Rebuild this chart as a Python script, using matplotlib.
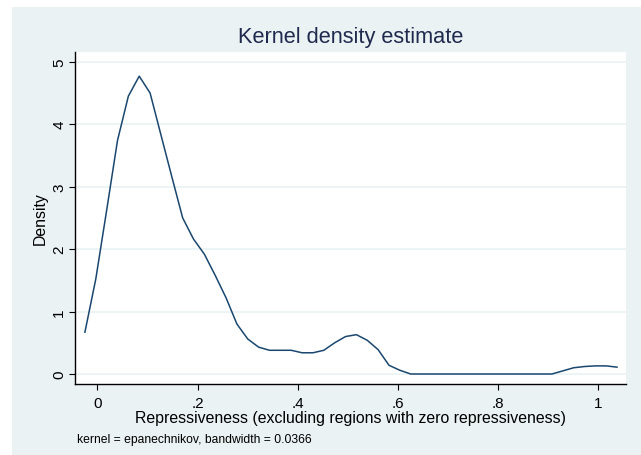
import matplotlib
matplotlib.use('Agg')
from matplotlib import pyplot as plt
from matplotlib.patches import Rectangle

plt.rcParams['font.family'] = ['Liberation Sans', 'DejaVu Sans']

# kernel density estimate (50 evaluation points)
repressiveness = [
    -0.0250, -0.0033, 0.0184, 0.0401, 0.0618, 0.0835, 0.1052, 0.1269, 0.1486, 0.1703,
    0.1920, 0.2136, 0.2353, 0.2570, 0.2787, 0.3004, 0.3221, 0.3438, 0.3655, 0.3872,
    0.4089, 0.4306, 0.4523, 0.4740, 0.4957, 0.5174, 0.5391, 0.5608, 0.5825, 0.6042,
    0.6259, 0.6476, 0.6693, 0.6910, 0.7127, 0.7344, 0.7561, 0.7778, 0.7995, 0.8212,
    0.8429, 0.8646, 0.8863, 0.9080, 0.9297, 0.9514, 0.9731, 0.9948, 1.0165, 1.0380,
]
density = [
    0.67, 1.52, 2.62, 3.74, 4.45, 4.77, 4.50, 3.83, 3.16, 2.50,
    2.16, 1.92, 1.58, 1.22, 0.80, 0.56, 0.43, 0.38, 0.38, 0.38,
    0.34, 0.34, 0.38, 0.50, 0.60, 0.63, 0.54, 0.39, 0.14, 0.06,
    0.00, 0.00, 0.00, 0.00, 0.00, 0.00, 0.00, 0.00, 0.00, 0.00,
    0.00, 0.00, 0.00, 0.00, 0.05, 0.10, 0.12, 0.13, 0.13, 0.11,
]
x_ticks = [0, 0.2, 0.4, 0.6, 0.8, 1.0]
x_tick_labels = ['0', '.2', '.4', '.6', '.8', '1']
y_ticks = [0, 1, 2, 3, 4, 5]

stata_bg = '#eaf2f3'
stata_navy = '#1a476f'
title_color = '#1f2a4e'

fig = plt.figure(figsize=(6.41, 4.56), dpi=100, facecolor='white')
fig.patches.append(Rectangle((12 / 641, 0), 1, 448 / 456, transform=fig.transFigure,
                             facecolor=stata_bg, edgecolor='none', zorder=-1))

ax = fig.add_axes([75 / 641, 71 / 456, 551 / 641, 332 / 456])
ax.set_facecolor('white')

ax.plot(repressiveness, density, color=stata_navy, linewidth=1.1, zorder=3)

ax.set_xlim(-0.0448, 1.056)
ax.set_ylim(-0.16, 5.157)

ax.set_xticks(x_ticks)
ax.set_xticklabels(x_tick_labels)
ax.set_yticks(y_ticks)
ax.set_yticklabels([str(v) for v in y_ticks], rotation=90, va='center')

ax.tick_params(axis='both', direction='out', length=4.3, width=0.8, labelsize=11, colors='black')
ax.tick_params(axis='x', pad=4.5)
ax.tick_params(axis='y', pad=2)

ax.grid(axis='y', color=stata_bg, linewidth=1.2, zorder=0)
ax.set_axisbelow(True)

for side in ('top', 'right'):
    ax.spines[side].set_visible(False)
for side in ('left', 'bottom'):
    ax.spines[side].set_linewidth(1.0)
    ax.spines[side].set_color('black')

ax.set_xlabel('Repressiveness (excluding regions with zero repressiveness)', fontsize=11.4)
ax.xaxis.set_label_coords(0.5, -0.078)
ax.set_ylabel('Density', fontsize=11.4)
ax.yaxis.set_label_coords(-0.05, 0.5)

ax.set_title('Kernel density estimate', fontsize=15.7, color=title_color, pad=7)

fig.text(77 / 641, 1 - 440 / 456, 'kernel = epanechnikov, bandwidth = 0.0366',
         fontsize=8.7, ha='left', va='center', color='black')

fig.savefig('out.png', dpi=100, facecolor='white')
